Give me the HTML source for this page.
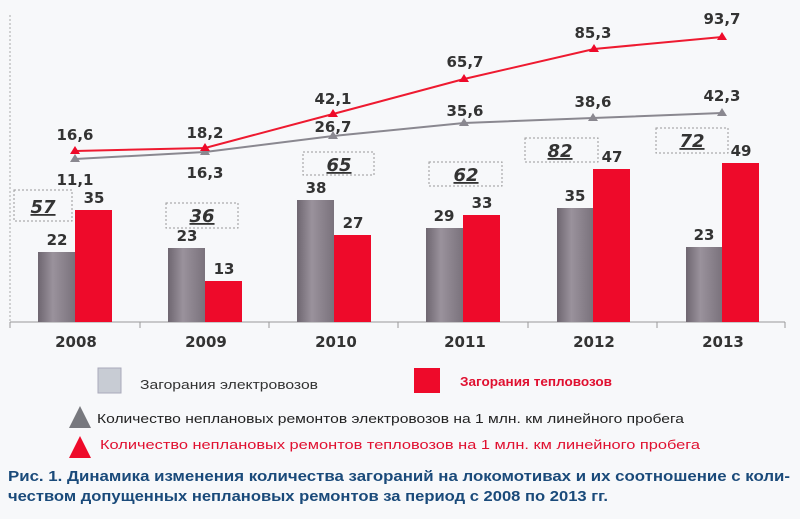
<!DOCTYPE html><html><head><meta charset="utf-8"><style>body{margin:0;background:#f7f8fa}svg{display:block}</style></head><body>
<svg width="800" height="519" viewBox="0 0 800 519" xmlns="http://www.w3.org/2000/svg" font-family="'Liberation Sans',sans-serif">
<defs>
<linearGradient id="g" x1="0" x2="1"><stop offset="0" stop-color="#6e6670"/><stop offset="0.4" stop-color="#9a929c"/><stop offset="1" stop-color="#7a727c"/></linearGradient>
</defs>
<rect width="800" height="519" fill="#f7f8fa"/>
<line x1="10" y1="15" x2="10" y2="322" stroke="#aaa" stroke-dasharray="2,2"/>
<line x1="10" y1="322" x2="785" y2="322" stroke="#999"/>
<g stroke="#999"><line x1="10" y1="322" x2="10" y2="328"/><line x1="140" y1="322" x2="140" y2="328"/><line x1="269" y1="322" x2="269" y2="328"/><line x1="398" y1="322" x2="398" y2="328"/><line x1="528" y1="322" x2="528" y2="328"/><line x1="657" y1="322" x2="657" y2="328"/><line x1="785" y1="322" x2="785" y2="328"/></g>
<g fill="url(#g)">
<rect x="38" y="252" width="37" height="70"/><rect x="168" y="248" width="37" height="74"/><rect x="297" y="200" width="37" height="122"/><rect x="426" y="228" width="37" height="94"/><rect x="557" y="208" width="36" height="114"/><rect x="686" y="247" width="36" height="75"/>
</g>
<g fill="#ee0a2a">
<rect x="75" y="210" width="37" height="112"/><rect x="205" y="281" width="37" height="41"/><rect x="334" y="235" width="37" height="87"/><rect x="463" y="215" width="37" height="107"/><rect x="593" y="169" width="37" height="153"/><rect x="722" y="163" width="37" height="159"/>
</g>
<g font-size="15" font-weight="bold" fill="#333" text-anchor="middle" font-family="'DejaVu Sans',sans-serif">
<text x="57" y="245">22</text><text x="94" y="203">35</text><text x="187" y="241">23</text><text x="224" y="274">13</text><text x="316" y="193">38</text><text x="353" y="228">27</text><text x="444" y="221">29</text><text x="482" y="208">33</text><text x="575" y="201">35</text><text x="612" y="162">47</text><text x="704" y="240">23</text><text x="741" y="156">49</text>
<text x="76" y="347">2008</text><text x="206" y="347">2009</text><text x="336" y="347">2010</text><text x="465" y="347">2011</text><text x="594" y="347">2012</text><text x="723" y="347">2013</text>
<text x="75" y="140">16,6</text><text x="75" y="185">11,1</text><text x="205" y="138">18,2</text><text x="205" y="178">16,3</text><text x="333" y="104">42,1</text><text x="333" y="132">26,7</text><text x="465" y="67">65,7</text><text x="465" y="116">35,6</text><text x="593" y="38">85,3</text><text x="593" y="107">38,6</text><text x="722" y="24">93,7</text><text x="722" y="101">42,3</text>
</g>
<polyline points="75,159 205,152 333,136 464,123 593,118 722,113" fill="none" stroke="#8a8890" stroke-width="2"/>
<polyline points="75,151 205,148 333,114 464,79 594,49 722,37" fill="none" stroke="#ee1a30" stroke-width="2"/>
<g fill="#8a8890"><path d="M75,154l5,8h-10z"/><path d="M205,147l5,8h-10z"/><path d="M333,131l5,8h-10z"/><path d="M464,118l5,8h-10z"/><path d="M593,113l5,8h-10z"/><path d="M722,108l5,8h-10z"/></g>
<g fill="#ee0a2a"><path d="M75,146l5,8h-10z"/><path d="M205,143l5,8h-10z"/><path d="M333,109l5,8h-10z"/><path d="M464,74l5,8h-10z"/><path d="M594,44l5,8h-10z"/><path d="M722,32l5,8h-10z"/></g>
<g fill="none" stroke="#999" stroke-dasharray="2,2"><rect x="14" y="190" width="58" height="31"/><rect x="166" y="203" width="72" height="25"/><rect x="303" y="152" width="71" height="23"/><rect x="429" y="162" width="73" height="24"/><rect x="525" y="138" width="73" height="24"/><rect x="656" y="128" width="72" height="25"/></g>
<g font-size="18" font-weight="bold" font-style="italic" fill="#333" text-anchor="middle" text-decoration="underline" font-family="'DejaVu Sans',sans-serif">
<text x="43" y="213">57</text><text x="202" y="222">36</text><text x="339" y="171">65</text><text x="466" y="181">62</text><text x="560" y="157">82</text><text x="692" y="147">72</text>
</g>
<rect x="98" y="368" width="23" height="25" fill="#c8ccd4" stroke="#aab"/>
<text x="140" y="389" font-size="13" fill="#333" textLength="178" lengthAdjust="spacingAndGlyphs">Загорания электровозов</text>
<rect x="414" y="368" width="26" height="25" fill="#ee0a2a"/>
<text x="460" y="386" font-size="13" font-weight="bold" fill="#e01030" textLength="152" lengthAdjust="spacingAndGlyphs">Загорания тепловозов</text>
<path d="M80,406l11,22h-22z" fill="#77787e"/>
<text x="97" y="423" font-size="13" fill="#222" textLength="587" lengthAdjust="spacingAndGlyphs">Количество неплановых ремонтов электровозов  на 1 млн. км линейного пробега</text>
<path d="M80,436l11,22h-22z" fill="#ee0a2a"/>
<text x="100" y="449" font-size="13" fill="#e01030" textLength="600" lengthAdjust="spacingAndGlyphs">Количество неплановых ремонтов тепловозов  на 1 млн. км линейного пробега</text>
<text x="8" y="481" font-size="15" font-weight="bold" fill="#1a4a7a" textLength="782" lengthAdjust="spacingAndGlyphs">Рис. 1. Динамика изменения количества загораний на локомотивах и их соотношение с коли-</text>
<text x="8" y="501" font-size="15" font-weight="bold" fill="#1a4a7a" textLength="600" lengthAdjust="spacingAndGlyphs">чеством допущенных неплановых ремонтов за период с 2008 по 2013 гг.</text>
</svg></body></html>
